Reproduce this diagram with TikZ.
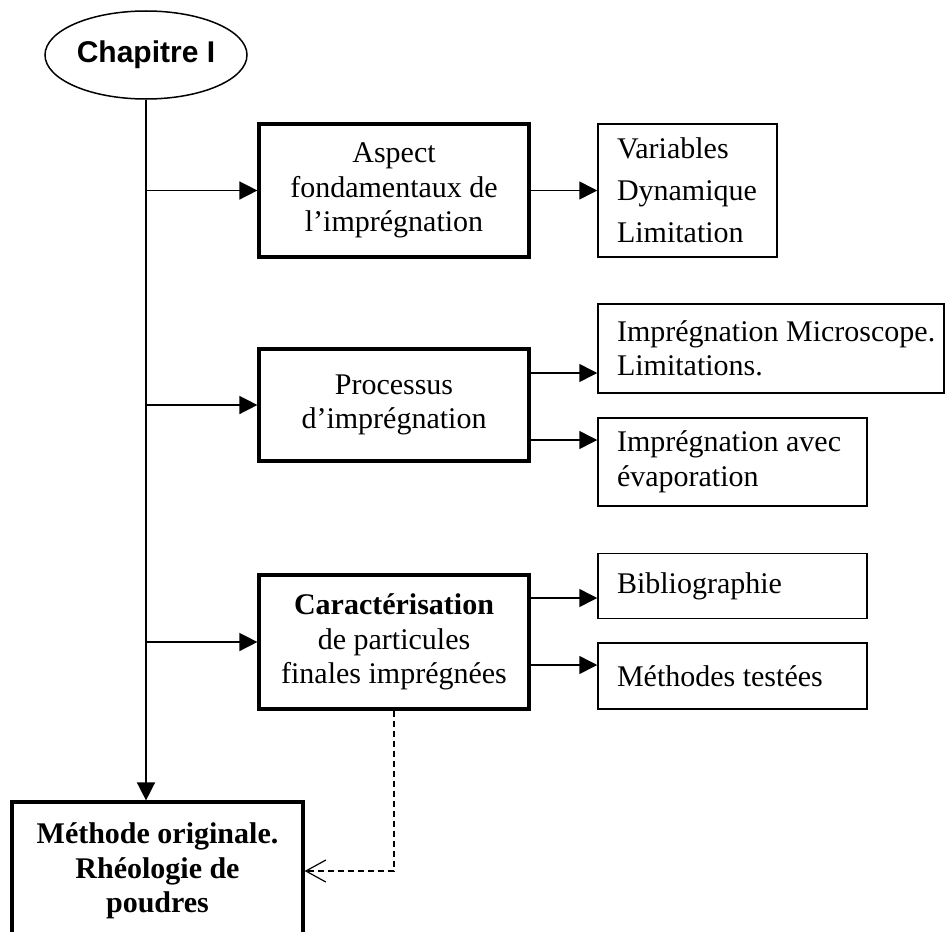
\documentclass[tikz,border=0pt]{standalone}
\usepackage{fontspec}
\setmainfont{Liberation Serif}
\setsansfont{Liberation Sans}
\usetikzlibrary{shapes.geometric, arrows.meta}
\tikzstyle{chapitre} = [ellipse, draw=black, line width=0.75pt, minimum width=101pt, minimum height=44pt, inner sep=0pt, font=\sffamily\bfseries\fontsize{15}{18}\selectfont]
\tikzstyle{process} = [rectangle, draw=black, line width=1.6pt, inner xsep=4pt, inner ysep=0pt, text width=127pt, align=flush center, font=\fontsize{15}{17.25}\selectfont]
\tikzstyle{liste} = [rectangle, draw=black, line width=0.75pt, inner xsep=9.5pt, inner ysep=0pt, align=flush left, font=\fontsize{15}{17.25}\selectfont]
\tikzstyle{arrow} = [-{Triangle[length=9pt, width=9pt]}, line width=0.75pt]
\tikzstyle{pointille} = [-{Straight Barb[length=10pt, width=11pt]}, dash pattern=on 3pt off 2pt, line width=0.6pt]

\begin{document}
\begin{tikzpicture}[x=1pt, y=1pt]
\useasboundingbox (0,0) rectangle (472.5,-465.5);
%colonne principale
\node[chapitre] (chap) at (73,-27.5) {Chapitre I};
\node[process, minimum height=66.5pt] (asp) at (197,-95.25) {Aspect\\ fondamentaux de\\ l’imprégnation};
\node[process, minimum height=56pt] (pro) at (197,-202.5) {Processus\\ d’imprégnation};
\node[process, minimum height=67pt] (car) at (197,-321) {\textbf{Caractérisation}\\ de particules\\ finales imprégnées};
\node[process, minimum height=69pt, text width=137.5pt] (bas) at (78.75,-435.5) {\bfseries Méthode originale.\\ Rhéologie de\\ poudres};
%boites de droite
\node[liste, text width=70.5pt, minimum height=66.5pt] (var) at (343.75,-95.25) {Variables\\[3.75pt] Dynamique\\[3.75pt] Limitation};
\node[liste, text width=154pt, minimum height=44.5pt] (micro) at (385.5,-174.25) {\mbox{Imprégnation Microscope.}\\ Limitations.};
\node[liste, text width=115.5pt, minimum height=44pt] (evap) at (366.25,-231) {Imprégnation avec\\ évaporation};
\node[liste, text width=115.5pt, minimum height=32.5pt] (biblio) at (366.25,-293) {Bibliographie};
\node[liste, text width=115.5pt, minimum height=33pt] (meth) at (366.25,-338) {Méthodes testées};
%liaisons
\draw [arrow] (chap.south) -- (chap.south |- bas.north);
\draw [arrow] (chap.south |- asp.west) -- (asp.west);
\draw [arrow] (chap.south |- pro.west) -- (pro.west);
\draw [arrow] (chap.south |- car.west) -- (car.west);
\draw [arrow] (asp) -- (var);
\draw [arrow] ([yshift=16pt]pro.east) -- ([yshift=16pt]pro.east -| micro.west);
\draw [arrow] ([yshift=-17.5pt]pro.east) -- ([yshift=-17.5pt]pro.east -| evap.west);
\draw [arrow] ([yshift=22pt]car.east) -- ([yshift=22pt]car.east -| biblio.west);
\draw [arrow] ([yshift=-11.5pt]car.east) -- ([yshift=-11.5pt]car.east -| meth.west);
\draw [pointille] (car.south) |- (bas.east);
\end{tikzpicture}
\end{document}
